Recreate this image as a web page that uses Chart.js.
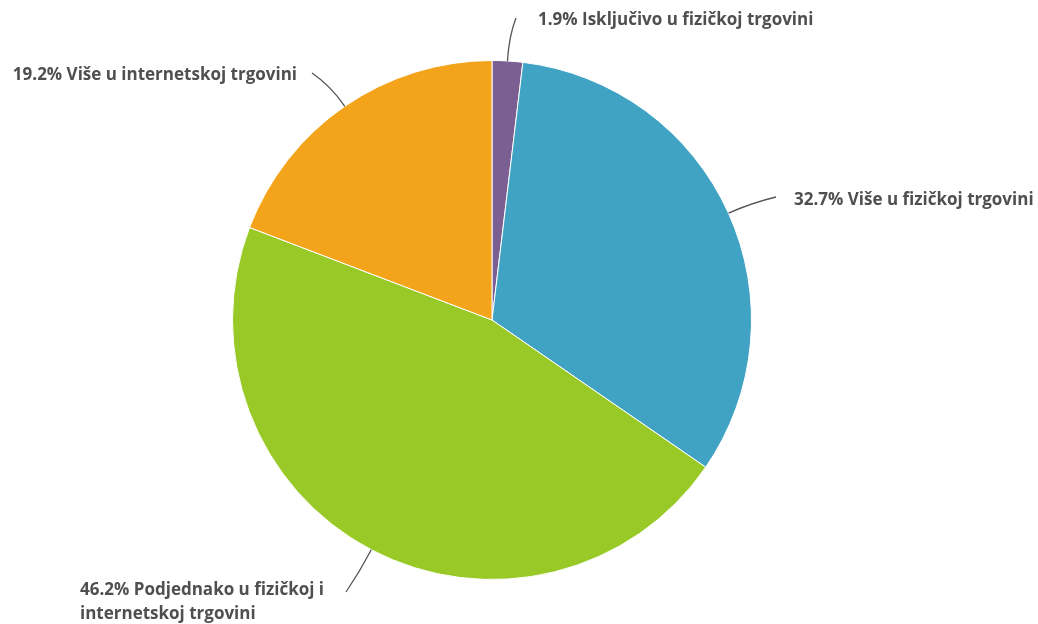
<!DOCTYPE html>
<html>
<head>
<meta charset="utf-8">
<script src="https://cdn.jsdelivr.net/npm/chart.js@4"></script>
<style>
  html, body { margin: 0; padding: 0; background: #fff; }
  #wrap { width: 1038px; height: 624px; position: relative; }
</style>
</head>
<body>
<div id="wrap"><canvas id="pieChart"></canvas></div>
<script>
// ===== DATA =====
const labels = ['Isključivo u fizičkoj trgovini', 'Više u fizičkoj trgovini', 'Podjednako u fizičkoj i internetskoj trgovini', 'Više u internetskoj trgovini'];
const values = [1.9, 32.7, 46.2, 19.2];
const colors = ['#7b5f92', '#41a3c3', '#98c927', '#f4a41a'];

// label placement: line end (ex, ey), text anchor (tx, ty), align, line breaks
const labelPos = [
  { ex: 516, ey: 18, tx: 538, ty: 20, align: 'left', lines: ['1.9% Isključivo u fizičkoj trgovini'] },
  { ex: 776, ey: 197, tx: 794, ty: 200, align: 'left', lines: ['32.7% Više u fizičkoj trgovini'] },
  { ex: 346, ey: 592, tx: 80, ty: 590, align: 'left', lines: ['46.2% Podjednako u fizičkoj i', 'internetskoj trgovini'] },
  { ex: 312, ey: 73, tx: 297, ty: 75, align: 'right', lines: ['19.2% Više u internetskoj trgovini'] }
];

// ===== LEADER LABELS =====
const leaderLabels = {
  id: 'leaderLabels',
  afterDraw(chart) {
    const ctx = chart.ctx;
    const arcs = chart.getDatasetMeta(0).data;
    ctx.save();
    arcs.forEach((arc, i) => {
      const p = labelPos[i];
      const mid = (arc.startAngle + arc.endAngle) / 2;
      const sx = arc.x + Math.cos(mid) * arc.outerRadius;
      const sy = arc.y + Math.sin(mid) * arc.outerRadius;
      const cx = arc.x + Math.cos(mid) * (arc.outerRadius + 25);
      const cy = arc.y + Math.sin(mid) * (arc.outerRadius + 25);
      ctx.beginPath();
      ctx.moveTo(sx, sy);
      ctx.quadraticCurveTo(cx, cy, p.ex, p.ey);
      ctx.strokeStyle = '#555';
      ctx.lineWidth = 1.3;
      ctx.stroke();

      ctx.fillStyle = '#4f4f4f';
      ctx.font = 'bold 17px "Open Sans"';
      ctx.textAlign = p.align;
      ctx.textBaseline = 'middle';
      p.lines.forEach((ln, k) => ctx.fillText(ln, p.tx, p.ty + k * 24));
    });
    ctx.restore();
  }
};

new Chart(document.getElementById('pieChart'), {
  type: 'pie',
  data: {
    labels: labels,
    datasets: [{
      data: values,
      backgroundColor: colors,
      borderColor: '#fff',
      borderWidth: 1
    }]
  },
  options: {
    responsive: true,
    maintainAspectRatio: false,
    animation: false,
    layout: { padding: { top: 60, bottom: 44, left: 100, right: 154 } },
    plugins: { legend: { display: false }, tooltip: { enabled: false } }
  },
  plugins: [leaderLabels]
});
</script>
</body>
</html>
